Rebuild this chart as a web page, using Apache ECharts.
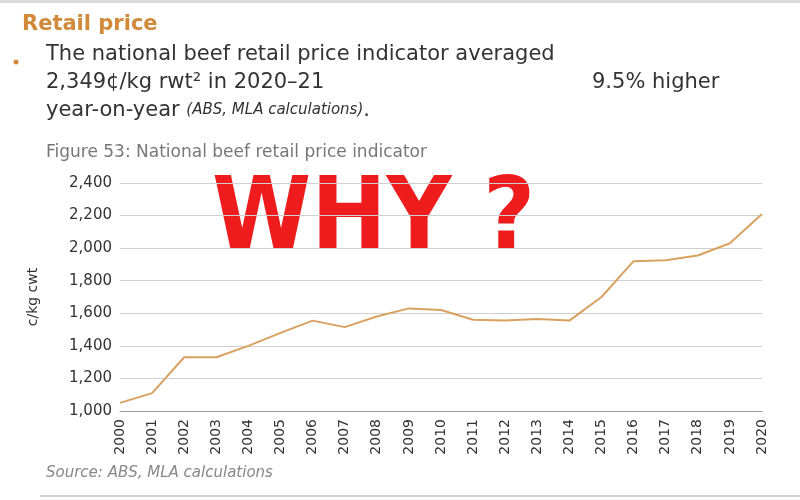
<!DOCTYPE html>
<html>
<head>
<meta charset="utf-8">
<script src="https://cdn.jsdelivr.net/npm/echarts@6/dist/echarts.min.js"></script>
<style>
  html, body { margin: 0; padding: 0; background: #fff; }
  #chart { width: 800px; height: 500px; }
</style>
</head>
<body>
<div id="chart"></div>
<script>
let years = ['2000','2001','2002','2003','2004','2005','2006','2007','2008','2009','2010',
  '2011','2012','2013','2014','2015','2016','2017','2018','2019','2020'];
let prices = [1050, 1110, 1330, 1330, 1400, 1480, 1555, 1515, 1580, 1630, 1620,
  1560, 1555, 1565, 1555, 1700, 1920, 1925, 1955, 2030, 2210];

let font = '"DejaVu Sans", sans-serif';
let dark = '#333';

let option = {
  animation: false,
  backgroundColor: '#fff',
  grid: { left: 120, right: 38, top: 183, bottom: 89 },
  graphic: [
    { type: 'rect', shape: { x: 0, y: 0, width: 800, height: 3 }, style: { fill: '#d9d9d9' } },
    { type: 'text', left: 22, top: 14, style: { text: 'Retail price', fill: '#d08a3a', font: 'bold 21px ' + font } },
    { type: 'circle', shape: { cx: 16, cy: 62, r: 2.5 }, style: { fill: '#d08a3a' } },
    { type: 'text', left: 46, top: 44, style: { text: 'The national beef retail price indicator averaged', fill: dark, font: '21px ' + font } },
    { type: 'text', left: 46, top: 72, style: { text: '2,349¢/kg rwt² in 2020–21', fill: dark, font: '21px ' + font } },
    { type: 'text', left: 592, top: 72, style: { text: '9.5% higher', fill: dark, font: '21px ' + font } },
    { type: 'text', left: 46, top: 100, style: { rich: {
      a: { fill: dark, font: '21px ' + font },
      b: { fill: dark, font: 'italic 15px ' + font }
    }, text: '{a|year-on-year }{b|(ABS, MLA calculations)}{a|.}' } },
    { type: 'text', left: 46, top: 144, style: { text: 'Figure 53: National beef retail price indicator', fill: '#777', font: '17px ' + font } },
    { type: 'text', left: 212, top: 172, style: { text: 'WHY ?', fill: '#ee1c1c', font: 'bold 100px "Liberation Sans Narrow", "DejaVu Sans Condensed", sans-serif' } },
    { type: 'text', left: 46, top: 466, style: { text: 'Source: ABS, MLA calculations', fill: '#888', font: 'italic 15px ' + font } },
    { type: 'rect', shape: { x: 40, y: 495, width: 760, height: 2 }, style: { fill: '#cfcfcf' } }
  ],
  xAxis: {
    type: 'category',
    data: years,
    boundaryGap: false,
    axisLine: { lineStyle: { color: '#999' } },
    axisTick: { show: false },
    axisLabel: { rotate: 90, color: dark, fontSize: 14, fontFamily: font, margin: 8 }
  },
  yAxis: {
    type: 'value',
    name: 'c/kg cwt',
    nameLocation: 'middle',
    nameGap: 80,
    nameTextStyle: { color: dark, fontSize: 14, fontFamily: font },
    min: 1000, max: 2400, interval: 200,
    axisLabel: { color: dark, fontSize: 15, fontFamily: font,
      formatter: v => v.toLocaleString('en-US') },
    splitLine: { lineStyle: { color: '#d0d0d0' } }
  },
  series: [{
    type: 'line',
    data: prices,
    showSymbol: false,
    lineStyle: { color: '#d9a160', width: 2 }
  }]
};

let chart = echarts.init(document.getElementById('chart'));
chart.setOption(option);
</script>
</body>
</html>
